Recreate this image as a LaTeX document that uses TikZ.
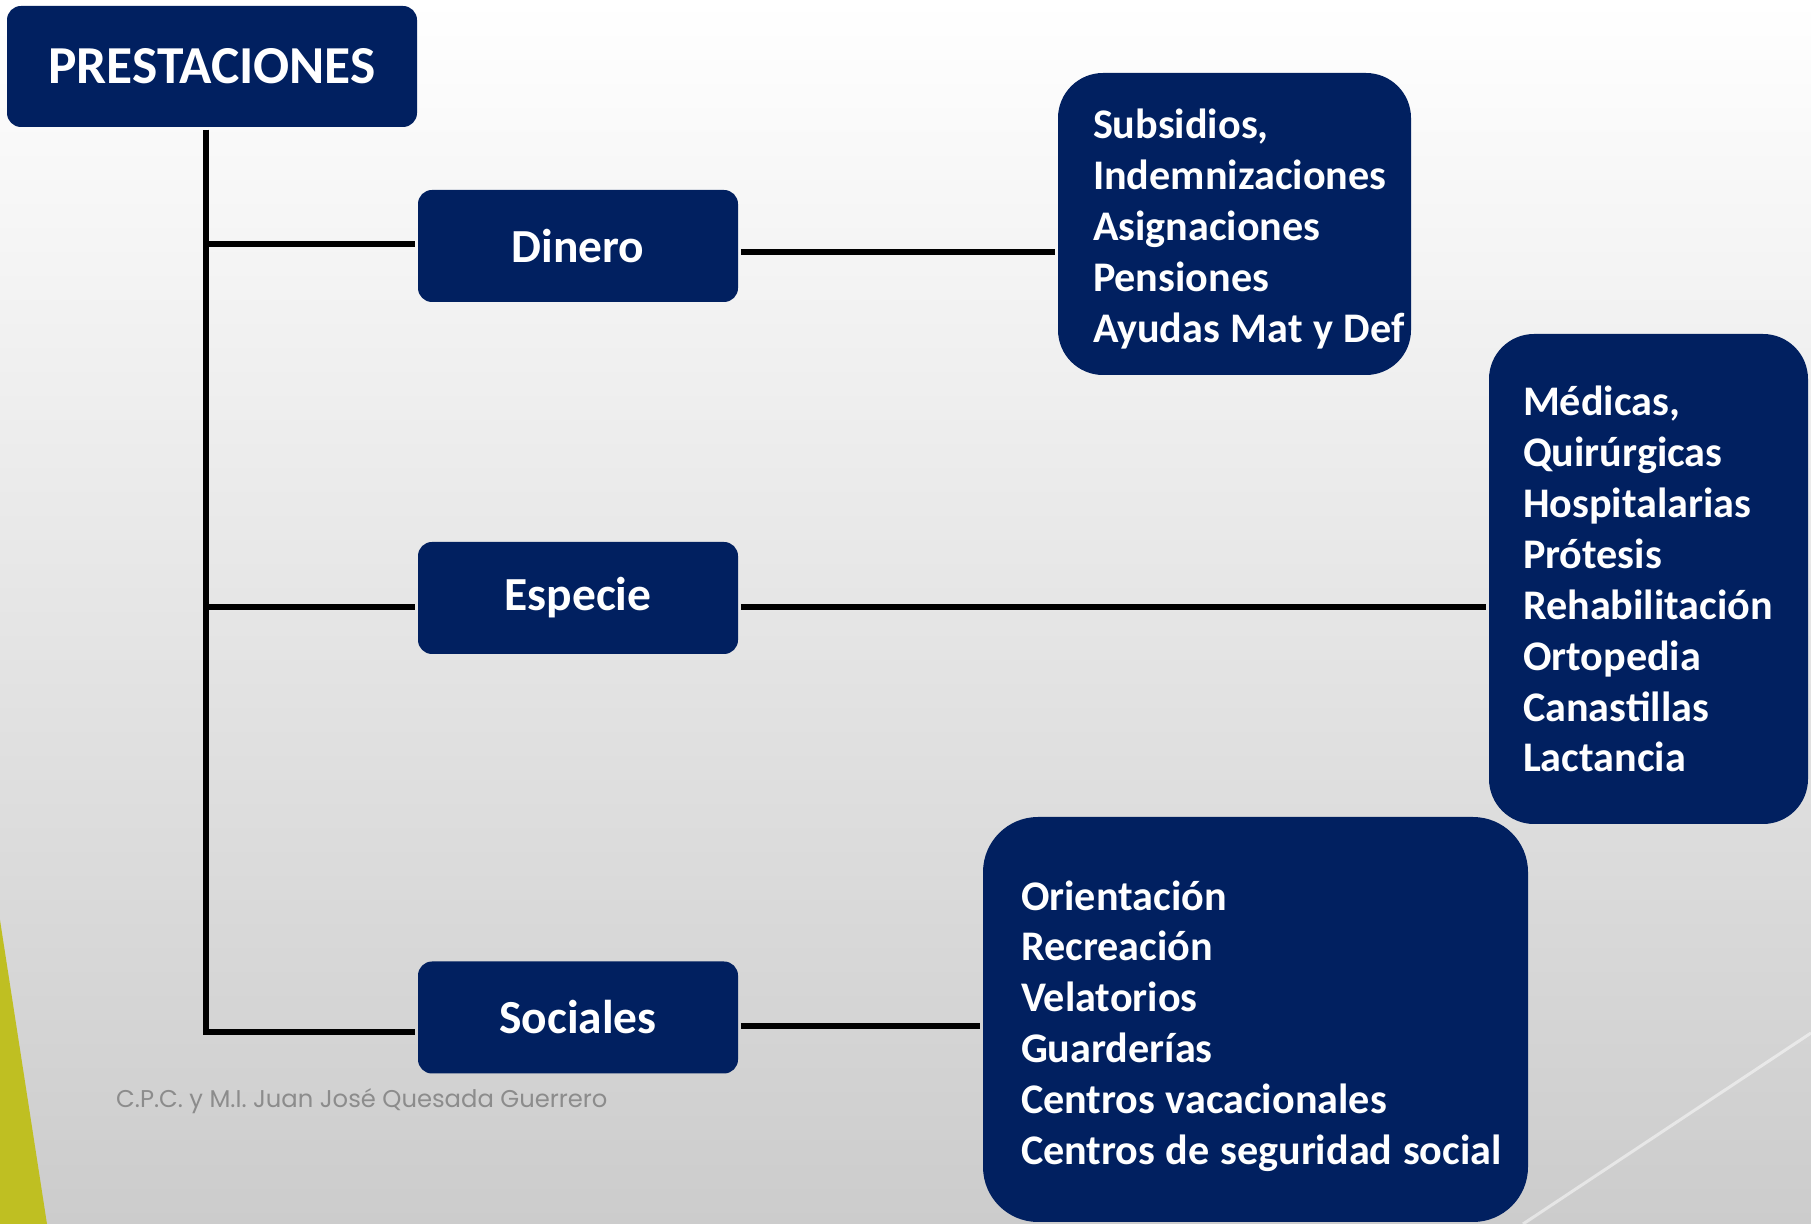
\documentclass[tikz,border=0pt]{standalone}
\usepackage{fontspec}
\setmainfont{Carlito}
\newfontfamily\credfont{Poppins}
\usetikzlibrary{positioning}
\definecolor{navy}{RGB}{1,32,96}
\definecolor{oliva}{RGB}{191,191,34}
\hyphenpenalty=10000
\tikzset{>=stealth}

\begin{document}
\begin{tikzpicture}[x=0.1mm, y=-0.1mm, line width=0.55mm,
	caja/.style={fill=navy, text=white, font=\bfseries\fontsize{13.5}{16}\selectfont, rounded corners=1.4mm, minimum width=32mm, minimum height=11.2mm, inner sep=0pt},
	lista/.style={fill=navy, text=white, font=\bfseries\fontsize{12}{14.5}\selectfont, inner sep=0pt, rounded corners=4.5mm,
		execute at begin node={\leftskip=#1\relax\spaceskip=.25em plus .05em minus .02em\relax}}]
			\useasboundingbox (0,0) rectangle (1811,1224);
			\shade[top color=white, bottom color=black!20] (0,0) rectangle (1811,1224);
			\fill[oliva] (0,920) -- (47,1224) -- (0,1224) -- cycle;
			\draw[white, opacity=.5, line width=.3mm] (1811,1033) -- (1523,1224);
			\node[caja, minimum width=41mm, minimum height=12.1mm, font=\bfseries\fontsize{15.2}{18}\selectfont] (A1) at (212,66.5) {PRESTACIONES};
			\node[caja] (B1) at (578,246) {Dinero};
			\node[caja] (B2) at (578,598) {Especie};
			\node[caja] (B3) at (578,1017.5) {Sociales};
			\node[lista=3.5mm, minimum height=30.2mm, text width=35.3mm, text height=3.9mm] (C1) at (1234.5,224)
				{Subsidios,\\ Indemnizaciones\\ Asignaciones\\ Pensiones\\ Ayudas Mat y Def};
			\node[lista=3.4mm, minimum height=49mm, text width=31.9mm] (C2) at (1648.5,579)
				{Médicas,\\ Quirúrgicas\\ Hospitalarias\\ Prótesis\\ Rehabilitación\\ Ortopedia\\ Canastillas\\ Lactancia};
			\node[lista=3.8mm, minimum height=40.5mm, text width=54.5mm, text height=4.3mm, rounded corners=5.5mm] (C3) at (1255.5,1019.5)
				{Orientación\\ Recreación\\ Velatorios\\ Guarderías\\ Centros vacacionales\\ Centros de seguridad social};
			\draw ([xshift=-.6mm]A1.south) |- ([yshift=-1.45mm]B3.west);
			\draw ([xshift=-.6mm,yshift=.2mm]A1.south |- B1.west) -- ([yshift=.2mm]B1.west);
			\draw ([xshift=-.6mm,yshift=-.9mm]A1.south |- B2.west) -- ([yshift=-.9mm]B2.west);
			\draw ([yshift=-.6mm]B1.east) -- ([yshift=-.6mm]B1.east -| C1.west);
			\draw ([yshift=-.9mm]B2.east) -- ([yshift=-.9mm]B2.east -| C2.west);
			\draw ([yshift=-.85mm]B3.east) -- ([yshift=-.85mm]B3.east -| C3.west);
			\node[text=black!45, font=\credfont\fontsize{6.9}{8}\selectfont, inner sep=0pt, anchor=base west] (D1) at (113.5,1107) {C.P.C. y M.I. Juan José Quesada Guerrero};
		\end{tikzpicture}
\end{document}
